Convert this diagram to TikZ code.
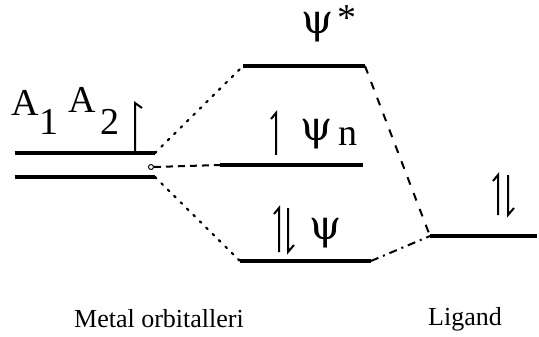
\documentclass[tikz,border=0pt]{standalone}
\usepackage{fontspec}
\setmainfont{Liberation Serif}
\newfontfamily\grkfont{DejaVu Serif}
\begin{document}
\begin{tikzpicture}[x=1pt,y=-1pt,
  level/.style={line width=3.6pt},
  elec/.style={line width=2pt},
  dotcon/.style={line width=2.2pt,dash pattern=on 2pt off 7pt,line cap=round},
  dashcon/.style={line width=2pt,dash pattern=on 7pt off 5pt},
  longdash/.style={line width=2pt,dash pattern=on 8pt off 9pt},
  dashdot/.style={line width=2pt,dash pattern=on 8pt off 5pt on 2pt off 5pt},
  big/.style={inner sep=0pt,font=\fontsize{38}{40}\selectfont},
  greek/.style={inner sep=0pt,font=\grkfont\fontsize{41}{44}\selectfont},
  caption/.style={inner sep=0pt,anchor=base,font=\fontsize{26}{30}\selectfont}]
\useasboundingbox (0,0) rectangle (539,337);
% level end points
\coordinate (m1L) at (15,153); \coordinate (m1R) at (155,153);
\coordinate (m2L) at (15,177); \coordinate (m2R) at (155,177);
\coordinate (psL) at (243,66); \coordinate (psR) at (365,66);
\coordinate (pnL) at (220,165); \coordinate (pnR) at (363,165);
\coordinate (pL) at (240,261); \coordinate (pR) at (371,261);
\coordinate (lgL) at (430,236); \coordinate (lgR) at (537,236);
% levels
\draw[level] (m1L) -- (m1R);
\draw[level] (m2L) -- (m2R);
\draw[level] (psL) -- (psR);
\draw[level] (pnL) -- (pnR);
\draw[level] (pL) -- (pR);
\draw[level] (lgL) -- (lgR);
% junction circle
\node[circle,draw,line width=1pt,inner sep=0pt,minimum size=5pt] (jc) at (151,167) {};
% connectors
\draw[dotcon] (m1R) -- (psL);
\draw[dashcon] (jc.east) -- (pnL);
\draw[dotcon] (m2R) -- (pL);
\draw[longdash] (psR) -- (lgL);
\draw[dashdot] (pR) -- (lgL);
% electrons
\draw[elec] (135,151) -- (135,103) -- (142,108);
\draw[elec] (276,155) -- (276,113) -- (271,119);
\draw[elec] (279,252) -- (279,208) -- (274,214);
\draw[elec] (288,208) -- (288,252) -- (294,245);
\draw[elec] (498,215) -- (498,175) -- (493,181);
\draw[elec] (508,175) -- (508,215) -- (514,208);
% labels
\node[big] (a1) at (25,103) {A};
\node[big] (i1) at (49,122) {1};
\node[big] (a2) at (82,100) {A};
\node[big] (i2) at (110,122) {2};
\node[greek] (psis) at (318,27) {ψ};
\node[big] (star) at (347,18) {*};
\node[greek] (psin) at (317,134) {ψ};
\node[big] (nn) at (348,137) {n};
\node[greek] (psi) at (326,233) {ψ};
\node[caption] (metal) at (159,327) {Metal orbitalleri};
\node[caption] (lig) at (465,325) {Ligand};
\end{tikzpicture}
\end{document}
